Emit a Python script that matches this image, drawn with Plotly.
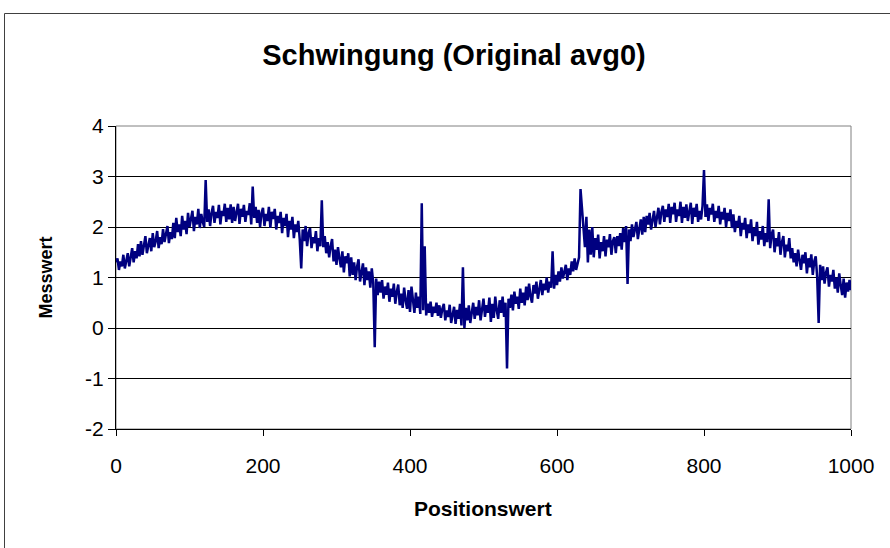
import plotly.graph_objects as go

positions = list(range(0, 1001, 2))

values = [
    # 0-38
    1.30, 1.38, 1.15, 1.32, 1.22, 1.45, 1.18, 1.36, 1.48, 1.22, 1.40, 1.58, 1.30, 1.52, 1.38, 1.66, 1.42, 1.72, 1.45, 1.60,
    # 40-78
    1.82, 1.48, 1.66, 1.78, 1.52, 1.88, 1.60, 1.72, 1.92, 1.58, 1.80, 1.66, 1.96, 1.70, 1.86, 2.02, 1.68, 1.90, 1.76, 2.08,
    # 80-118
    1.78, 2.18, 1.90, 2.05, 1.82, 2.22, 1.95, 2.12, 1.86, 2.28, 2.00, 2.15, 2.32, 1.92, 2.20, 2.05, 2.36, 1.98, 2.26, 2.10,
    # 120-158
    2.00, 2.93, 2.10, 2.35, 2.02, 2.28, 2.42, 2.08, 2.30, 2.18, 2.44, 2.05, 2.32, 2.22, 2.46, 2.10, 2.38, 2.15, 2.45, 2.08,
    # 160-198
    2.40, 2.12, 2.30, 2.46, 2.06, 2.36, 2.20, 2.44, 2.10, 2.32, 2.24, 2.47, 2.05, 2.80, 2.18, 2.40, 2.08, 2.34, 2.00, 2.28,
    # 200-238
    2.38, 2.02, 2.26, 2.12, 2.40, 1.98, 2.30, 2.16, 2.36, 1.95, 2.22, 2.08, 2.30, 1.88, 2.18, 2.02, 2.26, 1.80, 2.12, 1.95,
    # 240-278
    2.20, 1.78, 2.05, 1.90, 2.12, 1.75, 1.18, 1.95, 1.72, 2.02, 1.62, 1.88, 1.98, 1.58, 1.80, 1.68, 1.92, 1.52, 1.78, 1.62,
    # 280-318
    2.53, 1.60, 1.82, 1.48, 1.70, 1.40, 1.62, 1.76, 1.32, 1.55, 1.25, 1.60, 1.38, 1.20, 1.52, 1.10, 1.42, 1.28, 1.48, 1.02,
    # 320-358
    1.40, 1.05, 1.30, 0.95, 1.22, 1.36, 0.92, 1.15, 1.28, 0.85, 1.20, 0.95, 1.12, 0.80, 1.18, 0.90, -0.38, 0.98, 0.65, 0.92,
    # 360-398
    0.70, 0.95, 0.58, 0.82, 0.66, 0.90, 0.52, 0.78, 0.62, 0.88, 0.48, 0.72, 0.86, 0.45, 0.68, 0.40, 0.80, 0.55, 0.38, 0.75,
    # 400-438
    0.32, 0.82, 0.50, 0.30, 0.70, 0.40, 0.62, 0.28, 2.47, 0.35, 1.62, 0.25, 0.48, 0.30, 0.52, 0.22, 0.42, 0.30, 0.50, 0.24,
    # 440-478
    0.45, 0.20, 0.38, 0.48, 0.15, 0.35, 0.22, 0.46, 0.10, 0.30, 0.42, 0.08, 0.36, 0.18, 0.48, 0.05, 1.20, 0.00, 0.40, 0.15,
    # 480-518
    0.45, 0.10, 0.30, 0.50, 0.18, 0.42, 0.25, 0.55, 0.15, 0.38, 0.58, 0.22, 0.45, 0.30, 0.60, 0.12, 0.48, 0.20, 0.62, 0.35,
    # 520-558
    0.18, 0.55, 0.30, 0.62, 0.22, 0.50, -0.80, 0.58, 0.40, 0.66, 0.35, 0.72, 0.48, 0.62, 0.38, 0.78, 0.50, 0.70, 0.45, 0.82,
    # 560-598
    0.55, 0.88, 0.62, 0.50, 0.85, 0.68, 0.92, 0.58, 0.80, 0.95, 0.65, 0.88, 0.75, 1.00, 0.70, 0.92, 0.80, 1.52, 0.78, 1.05,
    # 600-638
    0.85, 1.12, 0.92, 1.20, 0.98, 1.10, 1.25, 0.95, 1.18, 1.05, 1.32, 1.12, 1.38, 1.15, 1.28, 1.40, 2.75, 2.35, 2.10, 1.60,
    # 640-678
    2.20, 1.30, 1.95, 1.45, 2.00, 1.40, 1.78, 1.55, 1.85, 1.38, 1.70, 1.52, 1.82, 1.42, 1.75, 1.60, 1.86, 1.45, 1.72, 1.80,
    # 680-718
    1.48, 1.82, 1.62, 1.88, 1.55, 1.98, 1.70, 2.02, 0.87, 1.95, 1.72, 2.05, 1.80, 1.92, 2.10, 1.76, 2.00, 2.15, 1.85, 2.20,
    # 720-758
    1.90, 2.22, 2.05, 2.28, 1.95, 2.15, 2.32, 2.00, 2.25, 2.38, 2.05, 2.30, 2.42, 2.10, 2.35, 2.20, 2.46, 2.08, 2.40, 2.25,
    # 760-798
    2.48, 2.10, 2.35, 2.22, 2.50, 2.08, 2.40, 2.18, 2.45, 2.12, 2.30, 2.48, 2.06, 2.38, 2.20, 2.46, 2.10, 2.32, 2.15, 2.42,
    # 800-838
    3.13, 2.20, 2.45, 2.12, 2.38, 2.25, 2.46, 2.10, 2.32, 2.18, 2.42, 2.05, 2.30, 2.15, 2.38, 2.00, 2.28, 2.12, 2.35, 1.98,
    # 840-878
    2.25, 1.90, 2.12, 2.00, 2.22, 1.82, 2.08, 1.95, 2.18, 1.78, 2.05, 1.88, 2.15, 1.72, 1.98, 1.82, 2.10, 1.65, 1.92, 1.75,
    # 880-918
    2.02, 1.62, 1.88, 1.70, 2.55, 1.58, 1.85, 1.95, 1.50, 1.78, 1.62, 1.90, 1.45, 1.70, 1.82, 1.40, 1.65, 1.52, 1.78, 1.38,
    # 920-958
    1.58, 1.30, 1.48, 1.22, 1.55, 1.35, 1.15, 1.45, 1.28, 1.50, 1.08, 1.38, 1.20, 1.46, 1.05, 1.32, 1.42, 1.00, 0.10, 1.25,
    # 960-998
    0.95, 1.22, 0.88, 1.10, 1.20, 0.82, 1.05, 0.92, 1.15, 0.78, 1.00, 0.70, 1.08, 0.85, 0.65, 0.98, 0.60, 0.90, 0.72, 0.95,
    # 1000
    0.75,
]

x_ticks = [0, 200, 400, 600, 800, 1000]
y_ticks = [-2, -1, 0, 1, 2, 3, 4]

FONT = "Liberation Sans, Arial, sans-serif"

fig = go.Figure()
fig.add_trace(go.Scatter(
    x=positions, y=values, mode="lines",
    line=dict(color="#000080", width=2.5),
    showlegend=False, hoverinfo="skip",
))

fig.update_layout(
    width=890, height=548,
    margin=dict(l=116, r=39, t=126, b=119),
    paper_bgcolor="white", plot_bgcolor="white",
    font=dict(family=FONT, color="black"),
    title=dict(text="<b>Schwingung (Original avg0)</b>",
               x=454 / 890, xanchor="center", y=1 - 55 / 548, yanchor="middle",
               font=dict(size=29, family=FONT, color="black")),
    xaxis=dict(range=[0, 1000], tickvals=x_ticks, ticktext=[str(v) for v in x_ticks],
               showgrid=False, zeroline=False, showline=True, linecolor="black", linewidth=1,
               ticks="outside", ticklen=6, tickcolor="black", tickwidth=1,
               ticklabelstandoff=12,
               tickfont=dict(size=21, family=FONT), fixedrange=True),
    yaxis=dict(range=[-2, 4], tickvals=y_ticks, ticktext=[str(v) for v in y_ticks],
               showgrid=True, gridcolor="black", gridwidth=1, zeroline=False,
               showline=True, linecolor="black", linewidth=1,
               ticks="outside", ticklen=7, tickcolor="black", tickwidth=1,
               tickfont=dict(size=21, family=FONT), fixedrange=True),
    shapes=[
        dict(type="rect", xref="paper", yref="paper", x0=0, y0=0, x1=1, y1=1,
             line=dict(color="#808080", width=1), layer="below"),
        dict(type="rect", xref="paper", yref="paper",
             x0=(4.5 - 116) / 735, y0=-1.0, x1=2.0, y1=(429 - 13.5) / 303,
             line=dict(color="#404040", width=1), layer="below"),
    ],
    annotations=[
        dict(text="<b>Messwert</b>", xref="paper", yref="paper",
             x=(45 - 116) / 735, y=0.5, textangle=-90, showarrow=False,
             xanchor="center", yanchor="middle", font=dict(size=18, family=FONT)),
        dict(text="<b>Positionswert</b>", xref="paper", yref="paper",
             x=(483 - 116) / 735, y=(429 - 508) / 303, showarrow=False,
             xanchor="center", yanchor="middle", font=dict(size=21, family=FONT)),
    ],
)

fig.write_html("out.html", config={"displayModeBar": False},
               post_script="document.body.style.margin='0px';")
